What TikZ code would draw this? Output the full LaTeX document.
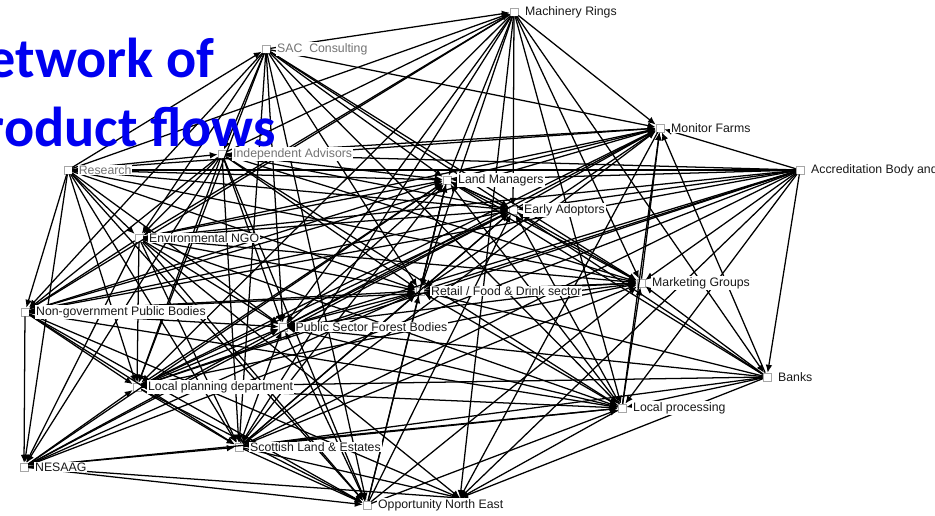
\documentclass[tikz,border=0pt]{standalone}
\usepackage{fontspec}
\setmainfont{Liberation Sans}
\newfontfamily\titlefont{Carlito}
\usetikzlibrary{arrows.meta}
\definecolor{titleblue}{RGB}{0,0,240}

\begin{document}
\begin{tikzpicture}[x=0.02cm, y=-0.02cm,
    actor/.style={draw=gray!70, fill=white, minimum size=4.5pt, inner sep=0pt, line width=0.4pt},
    flow/.style={line width=0.72pt, -{Latex[length=4.5pt,width=3.8pt]}},
    tag/.style={anchor=west, fill=white, inner sep=0.5pt, font=\fontsize{7}{8}\selectfont, text=black!90},
    faint/.style={tag, text=black!55}]
  % Fix the frame
  \useasboundingbox (0,0) rectangle (935,515);

  % Draw the actors
  \node[actor] (mr) at (514,12) {};
  \node[actor] (sac) at (266,49) {};
  \node[actor] (mf) at (660,128) {};
  \node[actor] (ab) at (800,170) {};
  \node[actor] (res) at (68,170) {};
  \node[actor] (ia) at (222,154) {};
  \node[actor] (lm) at (447,180) {};
  \node[actor] (ea) at (513,210) {};
  \node[actor] (engo) at (139,238) {};
  \node[actor] (mg) at (641,283) {};
  \node[actor] (rf) at (420,291) {};
  \node[actor] (ngpb) at (25,312) {};
  \node[actor] (psfb) at (283,327) {};
  \node[actor] (banks) at (767,377) {};
  \node[actor] (lpd) at (137,387) {};
  \node[actor] (lp) at (622,408) {};
  \node[actor] (sle) at (239,447) {};
  \node[actor] (nes) at (24,467) {};
  \node[actor] (one) at (367,505) {};
  \coordinate (onehub) at (460,498);

  % Draw the flows
  \foreach \a/\b in {ab/res, ab/ia, ab/mf, ab/lm, ab/ea, ab/engo, ab/ngpb, ab/rf,
      ab/psfb, ab/lpd, ab/mg, ab/lp, ab/banks, ab/sle, ab/onehub, ab/nes,
      banks/mf, banks/mg, banks/ea, banks/lm, banks/rf, banks/psfb, banks/lp,
      banks/sle, banks/onehub, banks/lpd,
      res/mr, res/sac, res/ia, res/mf, res/lm, res/ea, res/engo, res/ngpb,
      res/nes, res/lpd, res/psfb, res/sle, res/rf, res/mg, res/one,
      sac/mr, sac/ia, sac/mf, sac/lm, sac/ea, sac/engo, sac/ngpb, sac/lpd,
      sac/psfb, sac/sle, sac/rf, sac/mg, sac/lp, sac/one,
      ia/mr, ia/mf, ia/lm, ia/ea, ia/engo, ia/ngpb, ia/nes, ia/lpd, ia/psfb,
      ia/sle, ia/rf, ia/mg, ia/lp, ia/one,
      mr/mf, mr/lm, mr/ea, mr/engo, mr/ngpb, mr/lpd, mr/psfb, mr/sle, mr/rf,
      mr/mg, mr/lp, mr/banks, mr/onehub,
      lm/mf, ea/mf, engo/mf, ngpb/mf, psfb/mf, lpd/mf, rf/mf, mg/mf, lp/mf,
      sle/mf, mf/onehub,
      engo/ngpb, engo/nes, engo/lpd, engo/psfb, engo/sle, engo/rf, engo/lm,
      engo/ea, engo/mg, engo/lp, engo/onehub, engo/one,
      ngpb/nes, ngpb/lpd, ngpb/psfb, ngpb/sle, ngpb/rf, ngpb/lm, ngpb/ea,
      ngpb/mg, ngpb/lp, ngpb/onehub, ngpb/one,
      nes/lpd, nes/psfb, nes/sle, nes/rf, nes/lm, nes/ea, nes/lp, nes/one,
      nes/onehub,
      lpd/psfb, lpd/sle, lpd/rf, lpd/lm, lpd/ea, lpd/mg, lpd/lp, lpd/one,
      sle/psfb, sle/rf, sle/lm, sle/ea, sle/mg, sle/lp, sle/one, sle/onehub,
      one/psfb, one/rf, one/lm, one/ea, one/mg, one/lp,
      lp/psfb, lp/rf, lp/lm, lp/ea, lp/mg, lp/onehub,
      psfb/rf, psfb/lm, psfb/ea, psfb/mg,
      rf/mg, lm/mg, ea/mg, lm/ea, ea/lm, rf/lm, lm/rf, ea/rf}
    \draw[flow] (\a) -- (\b);

  % Add the labels
  \node[tag] (mr-l) at ([xshift=3.2pt]mr.east) {Machinery Rings};
  \node[faint] (sac-l) at ([xshift=3.2pt]sac.east) {SAC\ \ Consulting};
  \node[tag] (mf-l) at ([xshift=3.2pt]mf.east) {Monitor Farms};
  \node[tag] (ab-l) at ([xshift=3.2pt]ab.east) {Accreditation Body and};
  \node[faint] (res-l) at ([xshift=3pt]res.east) {Research};
  \node[faint] (ia-l) at ([xshift=3.2pt]ia.east) {Independent Advisors};
  \node[tag] (lm-l) at ([xshift=3.2pt]lm.east) {Land Managers};
  \node[tag] (ea-l) at ([xshift=3.2pt]ea.east) {Early Adoptors};
  \node[tag] (engo-l) at ([xshift=2.6pt]engo.east) {Environmental NGO};
  \node[tag] (mg-l) at ([xshift=3.2pt]mg.east) {Marketing Groups};
  \node[tag] (rf-l) at ([xshift=3.2pt]rf.east) {Retail / Food \& Drink sector};
  \node[tag] (ngpb-l) at ([xshift=3.2pt]ngpb.east) {Non-government Public Bodies};
  \node[tag] (psfb-l) at ([xshift=4pt]psfb.east) {Public Sector Forest Bodies};
  \node[tag] (banks-l) at ([xshift=3.2pt]banks.east) {Banks};
  \node[tag] (lpd-l) at ([xshift=3.2pt]lpd.east) {Local planning department};
  \node[tag] (lp-l) at ([xshift=3.2pt]lp.east) {Local processing};
  \node[tag] (sle-l) at ([xshift=3.2pt]sle.east) {Scottish Land \& Estates};
  \node[tag] (nes-l) at ([xshift=3.2pt]nes.east) {NESAAG};
  \node[tag] (one-l) at ([xshift=3.2pt]one.east) {Opportunity North East};

  % Add the title
  \node[anchor=base east, inner sep=0pt, text=titleblue, font=\titlefont\bfseries\fontsize{32}{38}\selectfont] (title-a) at (215,77) {Network of};
  \node[anchor=base east, inner sep=0pt, text=titleblue, font=\titlefont\bfseries\fontsize{32}{38}\selectfont] (title-b) at (276,146) {Product flows};
\end{tikzpicture}
\end{document}
